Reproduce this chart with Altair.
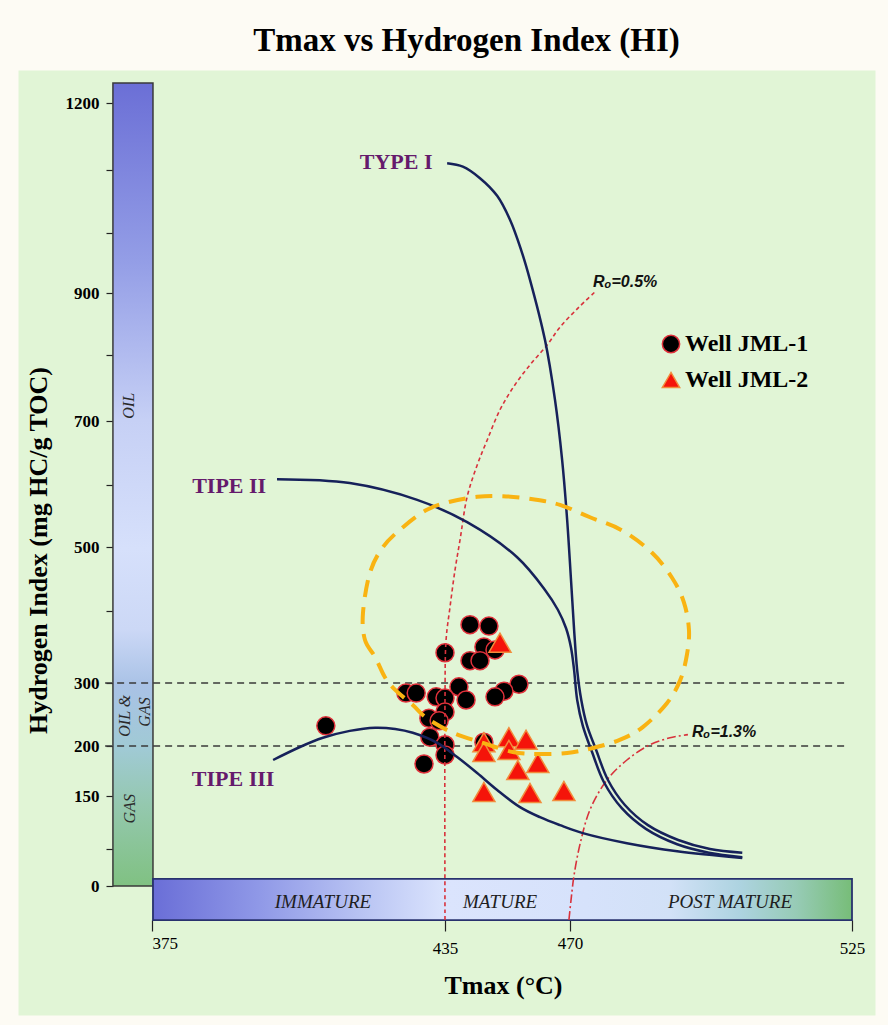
import altair as alt
import pandas as pd

# ---------------- axis breakpoints (data units) ----------------
X_BREAKS = [375, 435, 470, 525]
Y_BREAKS = [0, 50, 150, 200, 300, 400, 500, 600, 700, 800, 900, 1000, 1100, 1200]
Y_LABELED = [0, 150, 200, 300, 500, 700, 900, 1200]

# ---------------- samples ----------------
WELLS = ["Well JML-1", "Well JML-2"]
JML1_TMAX = [442.0, 447.3, 445.9, 449.0, 435.0, 442.0, 444.8, 438.9, 455.7, 451.5,
             449.0, 427.0, 429.1, 433.2, 435.0, 440.9, 435.0, 431.7, 433.8, 431.9,
             435.0, 435.0, 430.7, 445.9, 410.6]
JML1_HI = [381, 379, 350, 346, 342, 331, 331, 294, 298, 287,
           278, 284, 284, 278, 276, 273, 254, 244, 240, 214,
           202, 191, 182, 206, 232]
JML2_TMAX = [450.4, 445.9, 445.9, 452.9, 452.9, 457.7, 461.0, 455.4, 445.9, 458.8, 468.3]
JML2_HI = [356, 206, 194, 214, 196, 210, 183, 176, 154, 153, 155]

# ---------------- kerogen type curves ----------------
TYPE1_TMAX = [435.6, 440.0, 444.8, 449.6, 453.2, 456.3, 458.8, 463.0, 465.8, 467.8,
              469.2, 470.2, 470.8, 471.4, 472.2, 473.3, 475.1, 477.4, 480.7, 485.2,
              491.1, 497.3, 503.6]
TYPE1_HI = [1110, 1105, 1087, 1059, 1021, 972, 922, 824, 732, 639,
            544, 448, 374, 318, 273, 233, 196, 166, 133, 95,
            67, 50, 45]
TYPE2_TMAX = [400.6, 415.5, 429.3, 441.2, 455.2, 463.0, 466.6, 468.9, 470.2, 470.8,
              471.4, 472.5, 474.3, 476.6, 480.1, 484.8, 490.9, 497.1, 503.6]
TYPE2_HI = [609, 603, 576, 540, 484, 433, 402, 376, 349, 318,
            273, 232, 194, 164, 127, 88, 59, 45, 39]
TYPE3_TMAX = [399.8, 405.3, 410.0, 415.5, 420.7, 424.8, 428.4, 433.4, 438.4, 444.0,
              449.6, 456.0, 461.6, 467.2, 472.5, 481.1, 490.9, 503.6]
TYPE3_HI = [186, 199, 213, 224, 229, 227, 221, 205, 189, 173,
            156, 129, 110, 95, 80, 61, 47, 38]

# ---------------- vitrinite reflectance lines ----------------
RO05_TMAX = [435.0, 435.0, 435.3, 436.4, 437.8, 439.2, 441.2, 444.0, 446.8, 450.4,
             454.6, 459.4, 463.6, 467.2, 471.6, 474.9]
RO05_HI = [-46, 273, 360, 406, 464, 511, 581, 631, 670, 717,
           755, 789, 816, 845, 876, 902]
RO13_TMAX = [469.7, 470.2, 470.8, 472.0, 473.9, 477.2, 481.1, 485.6, 489.5, 493.0]
RO13_HI = [-46, -19, 15, 61, 124, 166, 186, 202, 213, 218]

# ---------------- highlighted zone (orange dashed ellipse) ----------------
ELLIPSE_TMAX = [418.2, 418.6, 420.7, 422.7, 424.8, 428.4, 431.3, 437.2, 445.6, 454.0,
                460.8, 469.2, 474.5, 479.8, 484.2, 488.9, 491.5, 492.8, 493.2, 492.2,
                489.9, 486.0, 480.1, 473.9, 467.2, 459.6, 451.2, 444.0, 436.4, 431.3,
                426.4, 422.3, 419.6]
ELLIPSE_HI = [397, 360, 336, 308, 289, 265, 244, 221, 205, 194,
              192, 193, 198, 210, 230, 268, 304, 339, 374, 414,
              452, 491, 527, 548, 568, 577, 582, 581, 573, 560,
              532, 500, 459]

# ---------------- HI threshold lines ----------------
THRESH_HI = [300, 200]
THRESH_FROM = 365.4
THRESH_TO = 524.2

# ---------------- side bars ----------------
VBAR_TMAX = [367.0, 375.2]
VBAR_HI = [0, 1230]
HBAR_TMAX = [375.2, 525.0]
HBAR_HI = [9.5, -46]

# ---------------- text annotations ----------------
KEROGEN_LABELS = ["TYPE I", "TIPE II", "TIPE III"]
KEROGEN_TMAX = [425.0, 390.8, 391.6]
KEROGEN_HI = [1112, 598, 167]

ZONE_LABELS = ["OIL", "OIL &", "GAS", "GAS"]
ZONE_TMAX = [370.3, 369.5, 373.6, 370.5]
ZONE_HI = [723, 248, 254, 126]

MATURITY_LABELS = ["IMMATURE", "MATURE", "POST MATURE"]
MATURITY_TMAX = [410.0, 450.4, 501.2]
MATURITY_HI = [-22, -22, -22]

RO_LABELS = ["R\u2092=0.5%", "R\u2092=1.3%"]
RO_TMAX = [474.5, 493.8]
RO_HI = [918, 222]

SERIF = "Liberation Serif"

# ---------------- scales & axes ----------------
XS = alt.Scale(domain=X_BREAKS, range=[134, 427, 552, 834], zero=False, nice=False)
YS = alt.Scale(domain=Y_BREAKS, range=[816, 779, 726, 676, 613, 541, 477, 415, 351, 285, 223, 163, 100, 33],
               zero=False, nice=False)

labeled = ",".join(str(v) for v in Y_LABELED)

XAX = alt.Axis(values=X_BREAKS, title="Tmax (\u00b0C)", domain=False, grid=False, format="d",
               tickSize=11, tickColor="#222222", tickWidth=1.2,
               labelFont=SERIF, labelFontSize=17, labelColor="black",
               labelPadding={"condition": {"test": "datum.value == 435 || datum.value == 525", "value": 9}, "value": 4},
               labelAlign={"condition": {"test": "datum.value == 375", "value": "left"}, "value": "center"},
               labelFlush=False, labelOverlap=False, offset=-95,
               titleFont=SERIF, titleFontSize=26, titleFontWeight="bold", titleColor="black",
               titleX=485, titleY=65, titleBaseline="middle", titleAlign="center")

YAX = alt.Axis(values=Y_BREAKS, title="Hydrogen Index (mg HC/g TOC)", domain=False, grid=False, format="d",
               tickSize=7, tickColor="#222222", tickWidth=1.2,
               labelFont=SERIF, labelFontSize=17, labelFontWeight="bold", labelColor="black",
               labelPadding=7, labelFlush=False, labelOverlap=False,
               labelExpr=f"indexof([{labeled}], datum.value) >= 0 ? datum.label : ''",
               offset=-95,
               titleFont=SERIF, titleFontSize=26, titleFontWeight="bold", titleColor="black",
               titleAngle=270, titleX=-75, titleY=480, titleBaseline="middle", titleAlign="center")


def X(field="tmax"):
    return alt.X(f"{field}:Q", scale=XS, axis=XAX)


def Y(field="hi"):
    return alt.Y(f"{field}:Q", scale=YS, axis=YAX)


# ---------------- data frames ----------------
vbar_df = pd.DataFrame({"x0": [VBAR_TMAX[0]], "x1": [VBAR_TMAX[1]], "y0": [VBAR_HI[0]], "y1": [VBAR_HI[1]]})
hbar_df = pd.DataFrame({"x0": [HBAR_TMAX[0]], "x1": [HBAR_TMAX[1]], "y0": [HBAR_HI[0]], "y1": [HBAR_HI[1]]})
thr_df = pd.DataFrame({"x0": [THRESH_FROM] * len(THRESH_HI), "x1": [THRESH_TO] * len(THRESH_HI), "hi": THRESH_HI})

jml1_df = pd.DataFrame({"tmax": JML1_TMAX, "hi": JML1_HI, "well": [WELLS[0]] * len(JML1_TMAX)})
jml2_df = pd.DataFrame({"tmax": JML2_TMAX, "hi": JML2_HI, "well": [WELLS[1]] * len(JML2_TMAX)})


def curve_df(name, xs, ys):
    return pd.DataFrame({"tmax": xs, "hi": ys, "curve": [name] * len(xs), "i": list(range(len(xs)))})


kerogen_df = pd.concat([
    curve_df("I", TYPE1_TMAX, TYPE1_HI),
    curve_df("II", TYPE2_TMAX, TYPE2_HI),
    curve_df("III", TYPE3_TMAX, TYPE3_HI),
])
ro05_df = curve_df("Ro05", RO05_TMAX, RO05_HI)
ro13_df = curve_df("Ro13", RO13_TMAX, RO13_HI)
ell_df = curve_df("zone", ELLIPSE_TMAX, ELLIPSE_HI)

ker_lab_df = pd.DataFrame({"tmax": KEROGEN_TMAX, "hi": KEROGEN_HI, "t": KEROGEN_LABELS})
zone_df = pd.DataFrame({"tmax": ZONE_TMAX, "hi": ZONE_HI, "t": ZONE_LABELS})
mat_df = pd.DataFrame({"tmax": MATURITY_TMAX, "hi": MATURITY_HI, "t": MATURITY_LABELS})
ro_lab_df = pd.DataFrame({"tmax": RO_TMAX, "hi": RO_HI, "t": RO_LABELS})

# ---------------- gradients ----------------
VGRAD = alt.LinearGradient(gradient="linear", x1=0, x2=0, y1=0, y2=1, stops=[
    alt.GradientStop(offset=0.0, color="#6b6fd6"),
    alt.GradientStop(offset=0.22, color="#939de6"),
    alt.GradientStop(offset=0.42, color="#c6d0f5"),
    alt.GradientStop(offset=0.58, color="#d6e0fb"),
    alt.GradientStop(offset=0.68, color="#ccd8f6"),
    alt.GradientStop(offset=0.75, color="#a9c2e6"),
    alt.GradientStop(offset=0.83, color="#a0cad4"),
    alt.GradientStop(offset=0.9, color="#94c8ae"),
    alt.GradientStop(offset=1.0, color="#80c182"),
])
HGRAD = alt.LinearGradient(gradient="linear", x1=0, x2=1, y1=0, y2=0, stops=[
    alt.GradientStop(offset=0.0, color="#6a6ed7"),
    alt.GradientStop(offset=0.15, color="#8f98e7"),
    alt.GradientStop(offset=0.3, color="#b9c4f3"),
    alt.GradientStop(offset=0.42, color="#dbe4fd"),
    alt.GradientStop(offset=0.62, color="#d6e2fb"),
    alt.GradientStop(offset=0.74, color="#d2e1f7"),
    alt.GradientStop(offset=0.84, color="#add3e0"),
    alt.GradientStop(offset=0.92, color="#97cbb6"),
    alt.GradientStop(offset=1.0, color="#77bd78"),
])

# ---------------- layers ----------------
vbar = alt.Chart(vbar_df).mark_rect(fill=VGRAD, stroke="#3a3a3a", strokeWidth=1.5).encode(
    x=X("x0"), x2="x1", y=Y("y0"), y2="y1")
hbar = alt.Chart(hbar_df).mark_rect(fill=HGRAD, stroke="#28326e", strokeWidth=1.8).encode(
    x=X("x0"), x2="x1", y=Y("y0"), y2="y1")

thr = alt.Chart(thr_df).mark_rule(color="#3a3a3a", strokeWidth=1.6, strokeDash=[7, 5]).encode(
    x=X("x0"), x2="x1", y=Y("hi"))

legend = alt.Legend(title=None, orient="none", legendX=641, legendY=262,
                    labelFont=SERIF, labelFontSize=24, labelFontWeight="bold", labelColor="black",
                    symbolSize=300, symbolStrokeWidth=1.5, rowPadding=12, labelOffset=2, padding=0)

shape_enc = alt.Shape("well:N", scale=alt.Scale(domain=WELLS, range=["circle", "triangle-up"]), legend=legend)
fill_enc = alt.Fill("well:N", scale=alt.Scale(domain=WELLS, range=["#000000", "#f5140a"]), legend=legend)
stroke_enc = alt.Stroke("well:N", scale=alt.Scale(domain=WELLS, range=["#e0303a", "#f28c3c"]), legend=legend)

pts1 = alt.Chart(jml1_df).mark_point(filled=True, opacity=1, strokeWidth=1.5, size=324).encode(
    x=X(), y=Y(), shape=shape_enc, fill=fill_enc, stroke=stroke_enc)
pts2 = alt.Chart(jml2_df).mark_point(filled=True, opacity=1, strokeWidth=1.5, size=484).encode(
    x=X(), y=Y(), shape=shape_enc, fill=fill_enc, stroke=stroke_enc)

ro05 = alt.Chart(ro05_df).mark_line(color="#d8323c", strokeWidth=1.6, strokeDash=[4, 3],
                                    interpolate="catmull-rom").encode(x=X(), y=Y(), order="i:Q")
ro13 = alt.Chart(ro13_df).mark_line(color="#d8323c", strokeWidth=1.6, strokeDash=[9, 3, 2, 3],
                                    interpolate="catmull-rom").encode(x=X(), y=Y(), order="i:Q")

kerogen = alt.Chart(kerogen_df).mark_line(color="#16215a", strokeWidth=2.5, interpolate="catmull-rom").encode(
    x=X(), y=Y(), detail="curve:N", order="i:Q")

ellipse = alt.Chart(ell_df).mark_line(color="#f9b312", strokeWidth=4, strokeDash=[17, 10],
                                      interpolate="cardinal-closed").encode(x=X(), y=Y(), order="i:Q")

ker_text = alt.Chart(ker_lab_df).mark_text(font=SERIF, fontSize=22, fontWeight="bold", color="#651a6c",
                                           align="center", baseline="middle").encode(x=X(), y=Y(), text="t:N")
zone_text = alt.Chart(zone_df).mark_text(font=SERIF, fontSize=16, fontStyle="italic", color="#2a2a2a",
                                         angle=270, align="center", baseline="middle").encode(x=X(), y=Y(), text="t:N")
mat_text = alt.Chart(mat_df).mark_text(font=SERIF, fontSize=19, fontStyle="italic", color="#1e1e1e",
                                       align="center", baseline="middle").encode(x=X(), y=Y(), text="t:N")
ro_text = alt.Chart(ro_lab_df).mark_text(font="Liberation Sans", fontSize=16, fontStyle="italic",
                                         fontWeight="bold", color="#111111",
                                         align="left", baseline="middle").encode(x=X(), y=Y(), text="t:N")

chart = alt.layer(
    vbar, hbar, thr, pts1, pts2, ro05, ro13, kerogen, ellipse, ker_text, zone_text, mat_text, ro_text
).properties(
    width=857,
    height=945,
    padding={"left": 18, "top": 70, "right": 13, "bottom": 10},
    autosize=alt.AutoSizeParams(type="none"),
    background="#fdfbf4",
    title=alt.TitleParams(text="Tmax vs Hydrogen Index (HI)", font=SERIF, fontSize=33, fontWeight="bold",
                          color="black", anchor="middle", dx=20, offset=12),
).configure_view(fill="#e1f5d6", stroke="transparent")

chart.save("out.html", embed_options={"renderer": "svg", "actions": False})
